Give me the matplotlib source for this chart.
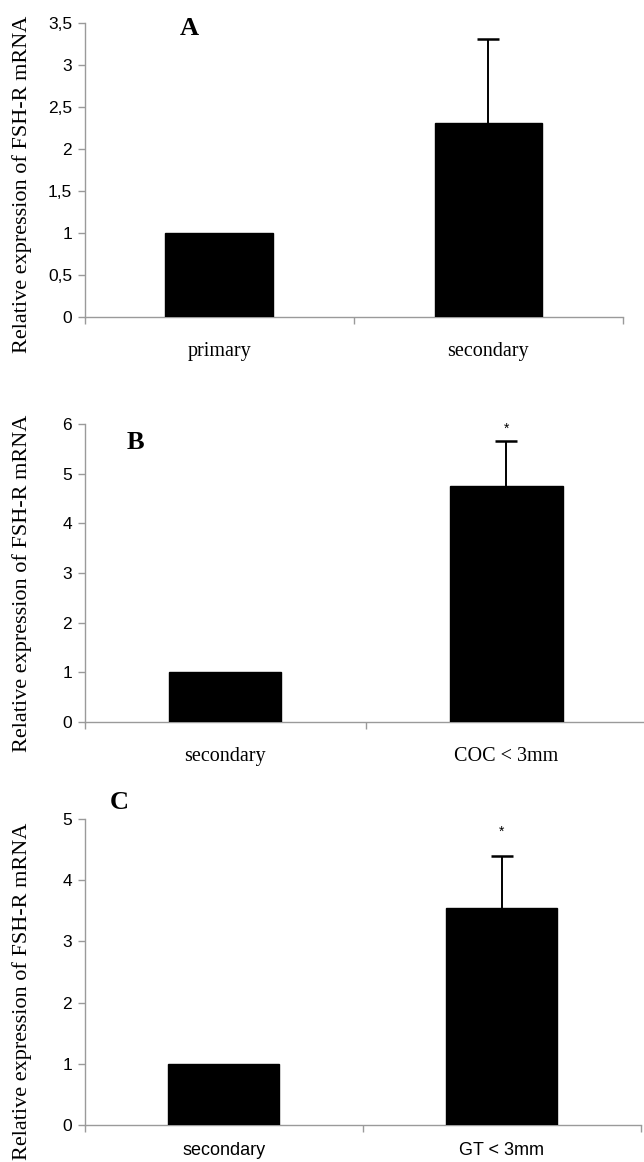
import matplotlib
matplotlib.use('Agg')
import matplotlib.pyplot as plt
from matplotlib.ticker import FuncFormatter, FixedLocator

# data
cats_a = ['primary', 'secondary']
vals_a = [1.0, 2.31]
err_a = [0.0, 1.0]

cats_b = ['secondary', 'COC < 3mm']
vals_b = [1.0, 4.75]
err_b = [0.0, 0.9]

cats_c = ['secondary', 'GT < 3mm']
vals_c = [1.0, 3.55]
err_c = [0.0, 0.85]

ylim_a, yticks_a = 3.5, [0, 0.5, 1, 1.5, 2, 2.5, 3, 3.5]
ylim_b, yticks_b = 6, [0, 1, 2, 3, 4, 5, 6]
ylim_c, yticks_c = 5, [0, 1, 2, 3, 4, 5]

stars_b = [False, True]
stars_c = [False, True]

grey = '#9a9a9a'
ylabel = 'Relative expression of FSH-R mRNA'


def comma(v, pos):
    return ('%g' % v).replace('.', ',')


def panel(ax, cats, vals, errs, ymax, yticks, label_font, label_size, label_pad, stars=None, star_off=10):
    x = list(range(len(cats)))
    ax.bar(x, vals, width=0.4, color='black', edgecolor='black', zorder=3)
    for i in x:
        if errs[i] > 0:
            eb = ax.errorbar(i, vals[i], yerr=[[0], [errs[i]]], fmt='none', ecolor='black',
                             elinewidth=1.4, capsize=8, capthick=1.8, zorder=4)
            # only the upper cap is drawn in the original
            eb[1][0].set_visible(False)
        if stars and stars[i]:
            ax.annotate('*', (i, vals[i] + errs[i]), xytext=(0, star_off), textcoords='offset points',
                        ha='center', va='center', fontsize=10, family='Liberation Sans')
    ax.set_xlim(-0.5, len(cats) - 0.5)
    ax.set_ylim(0, ymax)
    ax.set_yticks(yticks)
    ax.yaxis.set_major_formatter(FuncFormatter(comma))
    ax.set_xticks(x)
    ax.set_xticklabels(cats, family=label_font, fontsize=label_size)
    ax.xaxis.set_minor_locator(FixedLocator([-0.5, 0.5, 1.5]))
    ax.tick_params(axis='x', which='major', length=0, pad=label_pad)
    ax.tick_params(axis='x', which='minor', length=5, color=grey, width=1)
    ax.tick_params(axis='y', length=5, color=grey, width=1, labelsize=12.5, pad=4)
    for t in ax.get_yticklabels():
        t.set_family('Liberation Sans')
    for s in ['top', 'right']:
        ax.spines[s].set_visible(False)
    for s in ['left', 'bottom']:
        ax.spines[s].set_color(grey)
        ax.spines[s].set_linewidth(1)


fig = plt.figure(figsize=(6.44, 11.62), dpi=100)

ax1 = fig.add_axes([0.1314, 0.7272, 0.836, 0.2530])
panel(ax1, cats_a, vals_a, err_a, ylim_a, yticks_a, 'Liberation Serif', 14.5, 18)

ax2 = fig.add_axes([0.1314, 0.3787, 0.8733, 0.2565])
panel(ax2, cats_b, vals_b, err_b, ylim_b, yticks_b, 'Liberation Serif', 14.5, 18, stars_b, 9)

ax3 = fig.add_axes([0.1314, 0.0318, 0.8635, 0.2633])
panel(ax3, cats_c, vals_c, err_c, ylim_c, yticks_c, 'Liberation Sans', 13, 12, stars_c, 17)

# y labels
for yc in [0.8417, 0.4983, 0.1472]:
    fig.text(0.034, yc, ylabel, rotation=90, ha='center', va='center',
             family='Liberation Serif', fontsize=16)

# panel letters
fig.text(0.2935, 0.9759, 'A', ha='center', va='center', family='Liberation Serif', fontsize=19, fontweight='bold')
fig.text(0.2104, 0.6196, 'B', ha='center', va='center', family='Liberation Serif', fontsize=19, fontweight='bold')
fig.text(0.1848, 0.3090, 'C', ha='center', va='center', family='Liberation Serif', fontsize=19, fontweight='bold')

fig.savefig('out.png', dpi=100)
